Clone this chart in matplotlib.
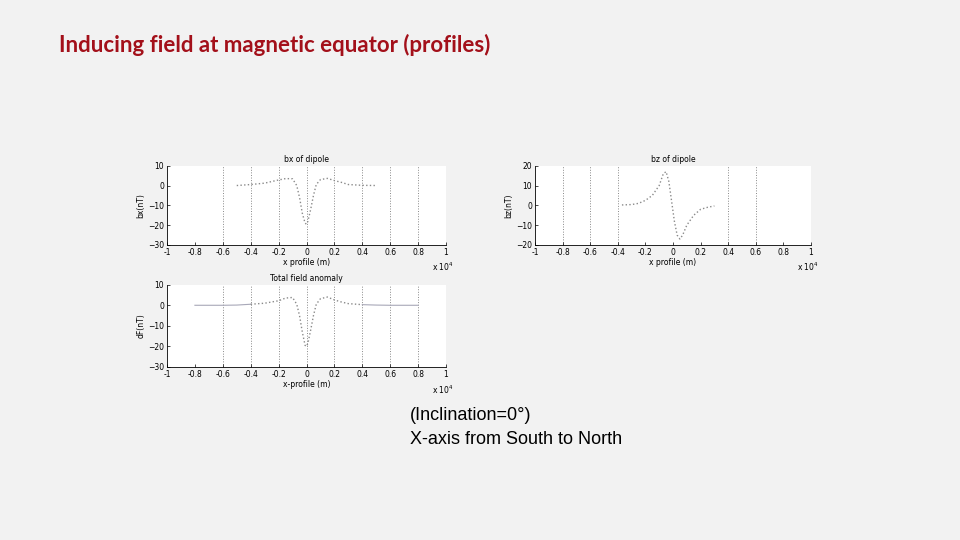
import numpy as np
import matplotlib
matplotlib.use("Agg")
import matplotlib.pyplot as plt

# profile values (x in units of 1e4 m, fields in nT)
bx_x = [-0.5, -0.4, -0.3, -0.2, -0.15, -0.1, -0.07, -0.05, -0.03, -0.01, 0.0,
        0.01, 0.03, 0.05, 0.07, 0.1, 0.15, 0.2, 0.25, 0.3, 0.4, 0.5]
bx_y = [0.0, 0.5, 1.2, 2.8, 3.5, 3.4, 0.0, -6.0, -14.0, -19.0, -19.5,
        -18.0, -12.0, -5.0, 0.5, 3.0, 3.6, 2.5, 1.6, 0.5, 0.1, 0.0]

bz_x = [-0.37, -0.3, -0.25, -0.2, -0.15, -0.1, -0.07, -0.05, -0.03, -0.01,
        0.01, 0.03, 0.05, 0.07, 0.1, 0.15, 0.2, 0.25, 0.3]
bz_y = [0.2, 0.4, 1.0, 2.5, 5.0, 10.0, 16.0, 17.0, 12.0, 2.0,
        -8.0, -15.0, -17.0, -15.0, -10.0, -5.0, -2.0, -1.0, -0.3]

df_x = [-0.8, -0.6, -0.5, -0.4, -0.3, -0.2, -0.15, -0.1, -0.07, -0.05, -0.03,
        -0.01, 0.0, 0.01, 0.03, 0.05, 0.07, 0.1, 0.15, 0.2, 0.25, 0.3, 0.4,
        0.5, 0.6, 0.8]
df_y = [0.0, 0.0, 0.1, 0.5, 1.0, 2.2, 3.5, 3.8, 0.5, -5.0, -13.0,
        -19.5, -20.0, -18.5, -12.0, -5.0, 0.5, 3.2, 4.0, 2.6, 1.6, 0.8, 0.3,
        0.1, 0.0, 0.0]

xticks = [-1, -0.8, -0.6, -0.4, -0.2, 0, 0.2, 0.4, 0.6, 0.8, 1]
xticklabels = ["-1", "-0.8", "-0.6", "-0.4", "-0.2", "0", "0.2", "0.4", "0.6", "0.8", "1"]

BG = "#f2f2f2"
CURVE = "#8a8a8a"
FS = 5.5

fig = plt.figure(figsize=(9.6, 5.4), dpi=100, facecolor=BG)

fig.text(59 / 960, 1 - 45 / 540, "Inducing field at magnetic equator (profiles)",
         color="#a3101a", fontsize=16, fontweight="bold", family="Lato",
         va="center", ha="left")

fig.text(410 / 960, 1 - 415 / 540, "(Inclination=0°)", fontsize=13,
         family="Liberation Sans", va="center", ha="left")
fig.text(410 / 960, 1 - 440 / 540, "X-axis from South to North", fontsize=13,
         family="Liberation Sans", va="center", ha="left")


def style_axes(ax, title, ylabel, xlabel, ylim, yticks, gridx):
    ax.set_facecolor("white")
    ax.set_xlim(-1, 1)
    ax.set_ylim(*ylim)
    ax.set_xticks(xticks)
    ax.set_xticklabels(xticklabels)
    ax.set_yticks(yticks)
    ax.tick_params(direction="in", length=2, width=0.5, labelsize=FS, pad=2)
    for s in ["top", "right"]:
        ax.spines[s].set_visible(False)
    for s in ["left", "bottom"]:
        ax.spines[s].set_linewidth(0.6)
    for gx in gridx:
        ax.axvline(gx, color="#888888", linestyle=":", linewidth=0.7, zorder=0)
    ax.set_title(title, fontsize=FS, pad=3)
    ax.set_ylabel(ylabel, fontsize=FS, labelpad=2)
    ax.set_xlabel(xlabel, fontsize=FS, labelpad=1)
    ax.text(0.99, -0.2, r"x 10$^4$", transform=ax.transAxes, fontsize=FS,
            ha="center", va="top")


# bx of dipole
ax1 = fig.add_axes([167 / 960, 1 - 245 / 540, 279 / 960, 79.3 / 540])
style_axes(ax1, "bx of dipole", "bx(nT)", "x profile (m)", (-30, 10),
           [-30, -20, -10, 0, 10], [-0.6, -0.4, -0.2, 0, 0.2, 0.4, 0.6, 0.8])
ax1.plot(bx_x, bx_y, color=CURVE, linestyle=":", linewidth=1.0)

# bz of dipole
ax2 = fig.add_axes([535 / 960, 1 - 245 / 540, 276 / 960, 79.3 / 540])
style_axes(ax2, "bz of dipole", "bz(nT)", "x profile (m)", (-20, 20),
           [-20, -10, 0, 10, 20], [-0.8, -0.6, -0.4, 0.4, 0.6])
ax2.plot(bz_x, bz_y, color=CURVE, linestyle=":", linewidth=1.0)

# total field anomaly
ax3 = fig.add_axes([167 / 960, 1 - 367 / 540, 279 / 960, 82.3 / 540])
style_axes(ax3, "Total field anomaly", "dF(nT)", "x-profile (m)", (-30, 10),
           [-30, -20, -10, 0, 10], [-0.6, -0.4, -0.2, 0, 0.2, 0.4, 0.6, 0.8])
dfx = np.array(df_x)
dfy = np.array(df_y)
inner = np.abs(dfx) <= 0.4
ax3.plot(dfx[dfx <= -0.4], dfy[dfx <= -0.4], color="#a8a8b8", linewidth=0.8)
ax3.plot(dfx[dfx >= 0.4], dfy[dfx >= 0.4], color="#a8a8b8", linewidth=0.8)
ax3.plot(dfx[inner], dfy[inner], color=CURVE, linestyle=":", linewidth=1.0)

fig.savefig("out.png", dpi=100, facecolor=BG)
